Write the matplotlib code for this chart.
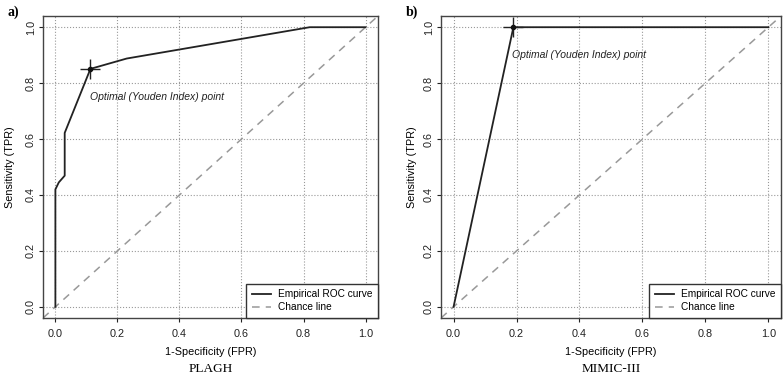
import matplotlib
matplotlib.use('Agg')
import matplotlib.pyplot as plt

# Datos
fpr_plagh = [0.0, 0.0, 0.011, 0.03, 0.03, 0.113, 0.23, 0.82, 1.0]
tpr_plagh = [0.0, 0.42, 0.445, 0.469, 0.622, 0.851, 0.888, 1.0, 1.0]
opt_plagh = (0.113, 0.851)

fpr_mimic = [0.0, 0.19, 1.0]
tpr_mimic = [0.0, 1.0, 1.0]
opt_mimic = (0.19, 1.0)

ticks = [0.0, 0.2, 0.4, 0.6, 0.8, 1.0]
tick_labels = ['0.0', '0.2', '0.4', '0.6', '0.8', '1.0']

panels = [
    ('a)', 'PLAGH', fpr_plagh, tpr_plagh, opt_plagh, (0.11, 0.75), 8),
    ('b)', 'MIMIC-III', fpr_mimic, tpr_mimic, opt_mimic, (0.185, 0.90), 5),
]

plt.rcParams['font.family'] = ['Liberation Sans', 'DejaVu Sans']

fig = plt.figure(figsize=(7.83, 3.77), dpi=100)
rects = [[0.0549, 0.1565, 0.4278, 0.801], [0.5632, 0.1565, 0.4342, 0.801]]

for rect, (tag, name, fpr, tpr, opt, txt, ypad) in zip(rects, panels):
    ax = fig.add_axes(rect)
    ax.set_xlim(-0.04, 1.04)
    ax.set_ylim(-0.04, 1.04)
    ax.set_xticks(ticks)
    ax.set_yticks(ticks)
    ax.set_xticklabels(tick_labels)
    ax.set_yticklabels(tick_labels, rotation=90, va='center')
    ax.tick_params(length=3, width=0.8, labelsize=7.8, colors='#222222', pad=2)
    ax.tick_params(axis='x', pad=5)
    ax.grid(True, linestyle=':', color='#999999', linewidth=0.8)
    ax.set_axisbelow(True)
    for s in ax.spines.values():
        s.set_color('#444444')
        s.set_linewidth(1.0)

    # línea de azar
    ax.plot([-0.04, 1.04], [-0.04, 1.04], linestyle=(0, (5, 4)), color='#999999',
            linewidth=1.1, label='Chance line')
    ax.plot(fpr, tpr, color='#222222', linewidth=1.3, label='Empirical ROC curve')
    ax.plot(opt[0], opt[1], marker='+', markersize=14, color='#222222',
            markeredgewidth=1.0, linestyle='none')
    ax.plot(opt[0], opt[1], marker='o', markersize=3, color='#111111', linestyle='none')
    ax.text(txt[0], txt[1], 'Optimal (Youden Index) point', style='italic',
            fontsize=7.5, ha='left', va='center', color='#222222')

    h, l = ax.get_legend_handles_labels()
    leg = ax.legend(h[::-1], l[::-1], loc='lower right', fontsize=7.3, frameon=True,
                    fancybox=False, edgecolor='#333333', borderaxespad=0,
                    handlelength=1.9, handletextpad=0.7, labelspacing=0.3,
                    borderpad=0.55, framealpha=1)
    leg.get_frame().set_linewidth(1.0)

    ax.set_xlabel('1-Specificity (FPR)', fontsize=7.8, labelpad=6)
    ax.set_ylabel('Sensitivity (TPR)', fontsize=7.8, labelpad=ypad)
    ax.text(0.5, -0.17, name, transform=ax.transAxes, ha='center', va='center',
            fontsize=9.5, family='Liberation Serif')
    ax.text(-0.105, 1.035, tag, transform=ax.transAxes, ha='left', va='top',
            fontsize=10, family='Liberation Serif', fontweight='bold')

fig.savefig('out.png', dpi=100)
